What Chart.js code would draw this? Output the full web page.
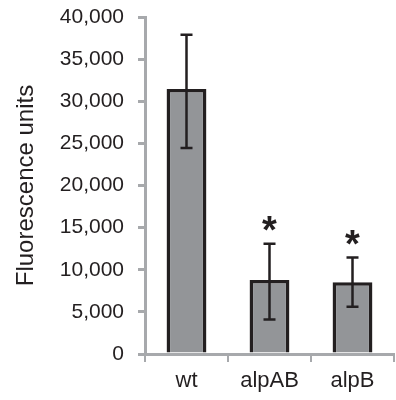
<!DOCTYPE html>
<html>
<head>
<meta charset="utf-8">
<script src="https://cdn.jsdelivr.net/npm/chart.js@4/dist/chart.umd.min.js"></script>
<style>
  html, body { margin: 0; padding: 0; background: #fff; }
  #wrap { width: 396px; height: 400px; }
</style>
</head>
<body>
<div id="wrap"><canvas id="fluor-chart" width="396" height="400"></canvas></div>
<script>
var strains = ['wt', 'alpAB', 'alpB']
var meanUnits = [31450, 8780, 8520]
var errLow = [24450, 4100, 5600]
var errHigh = [37880, 13100, 11450]
var signif = ['', '*', '*']
var yTicks = [0, 5000, 10000, 15000, 20000, 25000, 30000, 35000, 40000]

var ink = '#231f20'
var axisGray = '#a7a9ac'
var face = '"Liberation Sans", Arial, sans-serif'

// error bars + asterisks, placed through the chart's own scales
var errorBarPlugin = {
    id: 'errorBars',
    afterDatasetsDraw: function(chart) {
        var ctx = chart.ctx
        var x = chart.scales.x, y = chart.scales.y
        ctx.save()
        ctx.strokeStyle = ink
        ctx.lineWidth = 2.5
        for (var i = 0; i < strains.length; i++) {
            var px = x.getPixelForValue(i)
            var top = y.getPixelForValue(errHigh[i])
            var bot = y.getPixelForValue(errLow[i])
            ctx.beginPath()
            ctx.moveTo(px, top); ctx.lineTo(px, bot)
            ctx.moveTo(px - 6, top); ctx.lineTo(px + 6, top)
            ctx.moveTo(px - 6, bot); ctx.lineTo(px + 6, bot)
            ctx.stroke()
            if (signif[i]) {
                ctx.fillStyle = ink
                ctx.font = 'bold 38px ' + face
                ctx.textAlign = 'center'
                ctx.textBaseline = 'alphabetic'
                ctx.fillText(signif[i], px, top - 1)
            }
        }
        ctx.restore()
    }
}

var fluorChartConfig = {
    type: 'bar',
    data: {
        labels: strains,
        datasets: [{
            data: meanUnits,
            backgroundColor: '#939598',
            borderColor: ink,
            borderWidth: 3.5,
            barPercentage: 1,
            categoryPercentage: 0.48
        }]
    },
    options: {
        responsive: false,
        animation: false,
        layout: { padding: { top: 17, right: 2, left: 12, bottom: 0 } },
        plugins: { legend: { display: false }, tooltip: { enabled: false } },
        scales: {
            x: {
                grid: { display: true, drawOnChartArea: false, color: axisGray, lineWidth: 2, tickLength: 8, offset: true },
                border: { color: axisGray, width: 3 },
                ticks: { color: ink, font: { family: face, size: 22 }, padding: 6 },
                afterFit: function(s) { s.height = 46 }
            },
            y: {
                min: 0,
                max: 40000,
                afterBuildTicks: function(s) { s.ticks = yTicks.map(function(v) { return { value: v } }) },
                grid: { display: true, drawOnChartArea: false, color: axisGray, lineWidth: 3, tickLength: 7 },
                border: { color: axisGray, width: 3 },
                ticks: {
                    color: ink,
                    font: { family: face, size: 21 },
                    padding: 14,
                    callback: function(v) { return v.toLocaleString('en-US') }
                },
                title: { display: true, text: 'Fluorescence units', color: ink, font: { family: face, size: 24 }, padding: 0 },
                afterFit: function(s) {
                    s.width = 133
                    s.paddingTop = 0
                    s.paddingBottom = 0
                }
            }
        }
    },
    plugins: [errorBarPlugin]
}

var ctx = document.getElementById('fluor-chart').getContext('2d')
var fluorChart = new Chart(ctx, fluorChartConfig)
</script>
</body>
</html>
